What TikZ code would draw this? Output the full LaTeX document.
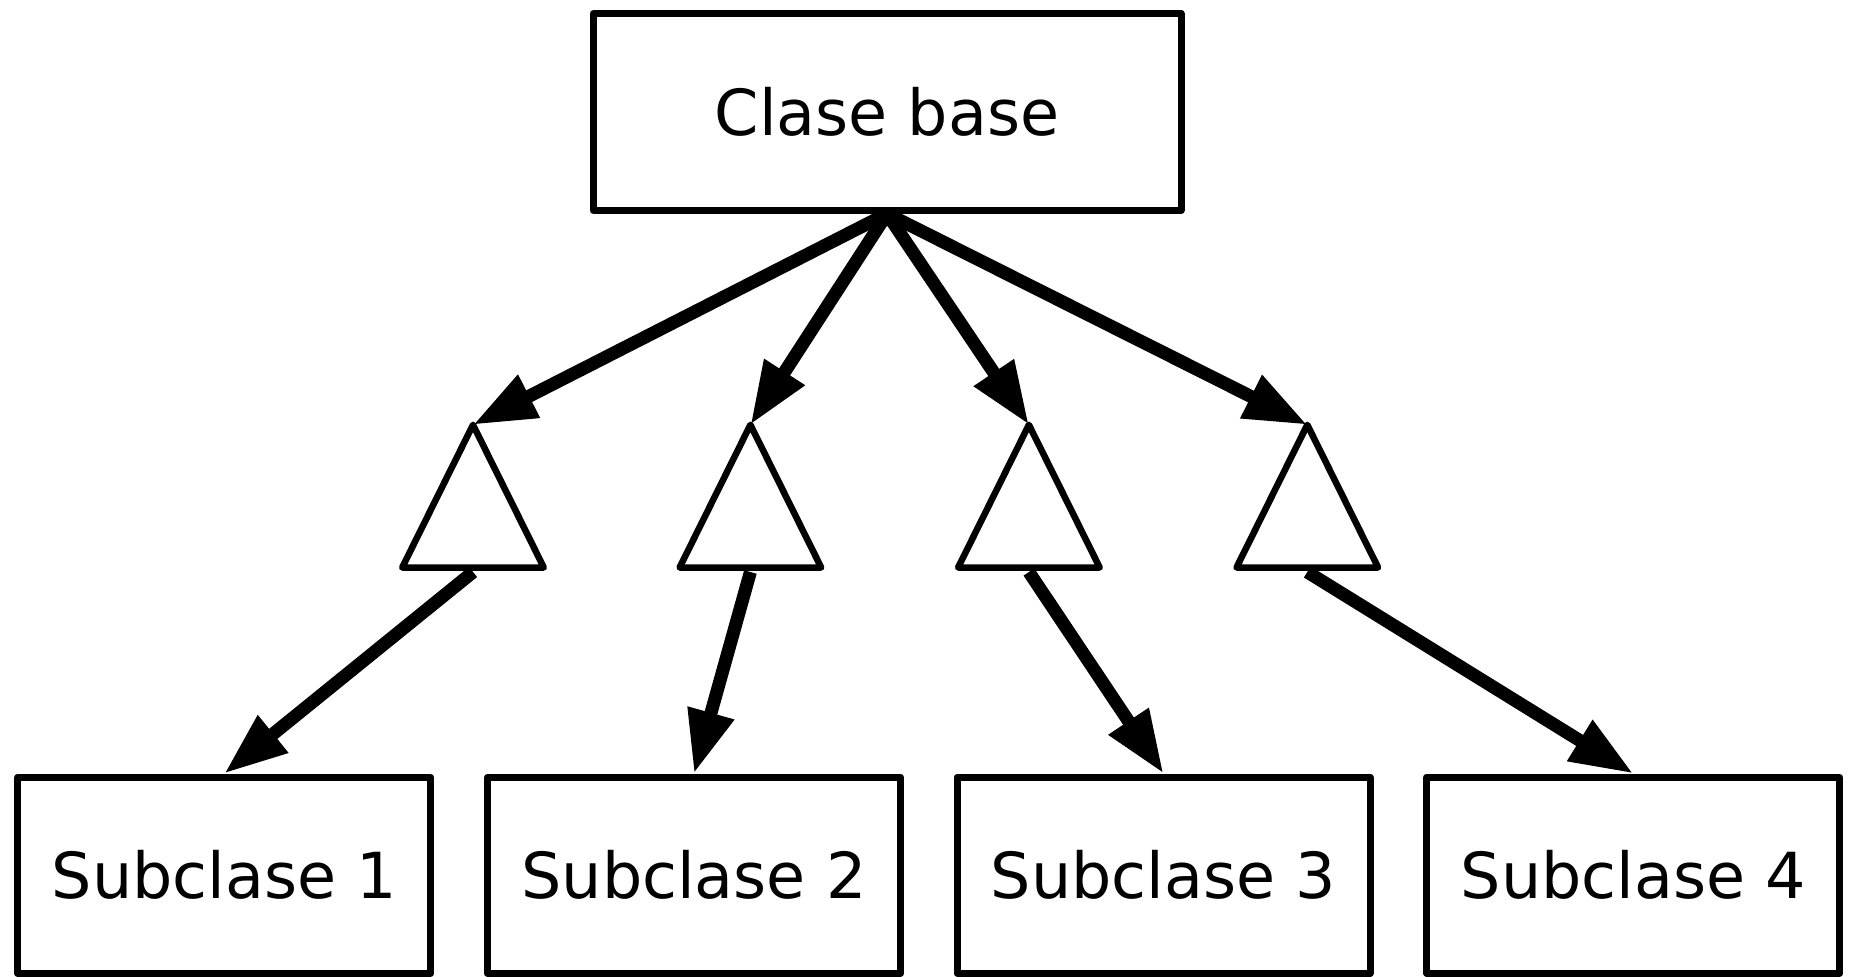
\documentclass[tikz,border=0pt]{standalone}
\usepackage{fontspec}
\setmainfont{DejaVu Sans}
\usetikzlibrary{arrows.meta}
\begin{document}
\begin{tikzpicture}[x=1pt,y=-1pt,
  classbox/.style={draw=black, line width=7pt, line join=round, fill=white,
    inner sep=0pt, font=\fontsize{63.5}{76}\selectfont},
  tri/.style={draw=black, line width=6.5pt, line join=round, fill=white},
  link/.style={line width=13pt, -{Triangle[length=63pt,width=45pt]}}]
\useasboundingbox (0,0) rectangle (1850,977);

% base class
\node[classbox, minimum width=588pt, minimum height=196.5pt] (base) at (887,112) {Clase base};

% subclasses
\foreach \i/\x in {1/224.25, 2/694, 3/1163.5, 4/1633.25}{
  \node[classbox, minimum width=413pt, minimum height=196.3pt] (sub\i) at (\x,875.2) {Subclase \i};
}

% inheritance triangles
\foreach \i/\x in {1/473, 2/750.4, 3/1028.9, 4/1307.3}{
  \coordinate (apex\i) at (\x,424.8);
  \coordinate (foot\i) at (\x,572);
  \draw[tri] (apex\i) -- ++(70.8,142.7) -- ++(-141.6,0) -- cycle;
}

% connectors
\foreach \i in {1,2,3,4}{
  \draw[link] (base.south) -- (apex\i);
  \draw[link] (foot\i) -- (sub\i.north);
}
\end{tikzpicture}
\end{document}
